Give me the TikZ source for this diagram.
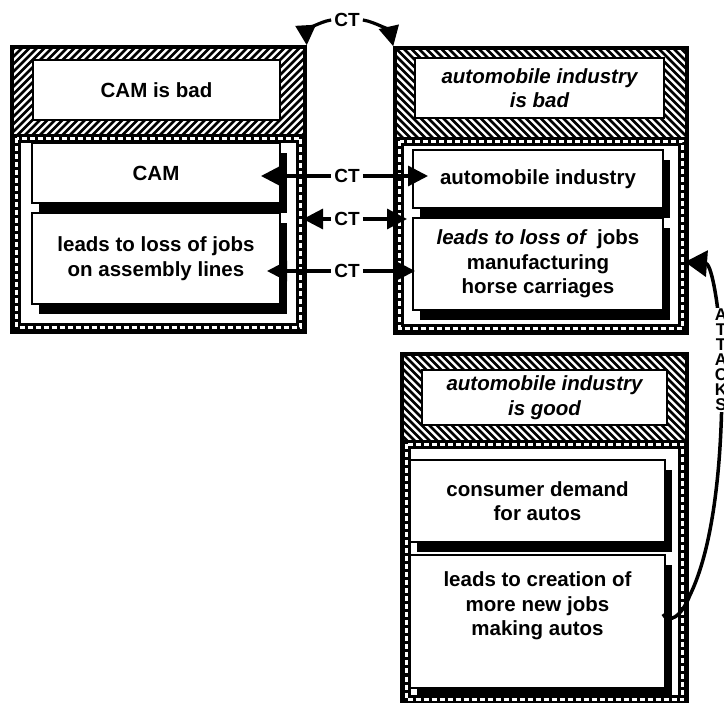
\documentclass[tikz,border=0pt]{standalone}
\usepackage{fontspec}
\setmainfont{Liberation Sans}
\usetikzlibrary{arrows.meta,shadows}

\begin{document}
\begin{tikzpicture}[x=1pt,y=-1pt,
        font=\bfseries\fontsize{20.5}{24.5}\selectfont,
        hatch/.style={line width=2.6pt},
        outer/.style={draw,line width=3.5pt},
        head/.style={draw,line width=2.5pt,fill=white,align=center,inner sep=0pt},
        band/.style={draw,line width=9pt,fill=white,
            postaction={draw=white,line width=2.5pt,dash pattern=on 5pt off 3pt}},
        card/.style={draw,line width=2.5pt,fill=white,align=center,inner sep=0pt,
            drop shadow={shadow xshift=7pt,shadow yshift=-10pt,fill=black,opacity=1}},
        ct/.style={line width=3.2pt,-{Triangle[length=20pt,width=20pt]}}]
            \useasboundingbox (0,0) rectangle (724,703);

            % hatched tops of the three frames
            \begin{scope}
                \clip (12,47) rectangle (305,140);
                \foreach \k in {0,7.5,...,420}
                    \draw[hatch] (\k,40) -- ++(-110,110);
            \end{scope}
            \begin{scope}
                \clip (395,48) rectangle (687,142);
                \foreach \k in {290,297.5,...,700}
                    \draw[hatch] (\k,40) -- ++(110,110);
            \end{scope}
            \begin{scope}
                \clip (402,354) rectangle (687,446);
                \foreach \k in {290,297.5,...,700}
                    \draw[hatch] (\k,346) -- ++(110,110);
            \end{scope}

            % CAM frame
            \node[outer,minimum width=293pt,minimum height=285pt] (L) at (158.5,189.5) {};
            \node[head,minimum width=247pt,minimum height=60pt] (Ltop) at (156.5,90) {CAM is bad};
            \draw[band] (16.5,138.5) rectangle (300.5,327.5);
            \node[card,minimum width=248pt,minimum height=60pt] (cam) at (156,173) {CAM};
            \node[card,minimum width=248pt,minimum height=91pt] (lossL) at (156,258.5)
                {leads to loss of jobs\\on assembly lines};

            % automobile industry is bad
            \node[outer,minimum width=292pt,minimum height=285pt] (R) at (541,190.5) {};
            \node[head,minimum width=249pt,minimum height=60pt] (Rtop) at (539.5,88)
                {\itshape automobile industry\\\itshape is bad};
            \draw[band] (399.5,141.5) rectangle (682.5,328.5);
            \node[card,minimum width=250pt,minimum height=58pt] (auto) at (538,179) {automobile industry};
            \node[card,minimum width=250pt,minimum height=92pt] (lossR) at (538,264)
                {\itshape leads to loss of\upshape\ \ jobs\\manufacturing\\horse carriages};

            % automobile industry is good
            \node[outer,minimum width=285pt,minimum height=350pt] (B) at (544.5,529) {};
            \node[head,minimum width=245pt,minimum height=55pt] (Btop) at (544.5,397.5)
                {\itshape automobile industry\\\itshape is good};
            \draw[band] (406.5,444.5) rectangle (682.5,699.5);
            \node[card,minimum width=255pt,minimum height=82pt] (demand) at (537.5,501)
                {consumer demand\\for autos};
            \node[card,minimum width=255pt,minimum height=133pt] (create) at (537.5,621.5) {};
            \node[align=center] (create-t) at (537.5,606)
                {leads to creation of\\more new jobs\\making autos};

            \begin{scope}[every node/.style={font=\bfseries\fontsize{19}{19}\selectfont,inner sep=3pt}]
                \node (ct0) at (347,20) {CT};
                \node (ct1) at (347,176) {CT};
                \node (ct2) at (347,219) {CT};
                \node (ct3) at (347,271) {CT};
            \end{scope}

            \coordinate (c1l) at (261,176);
            \coordinate (c1r) at (428,176);
            \coordinate (c2l) at (303,219);
            \coordinate (c2r) at (407,219);
            \coordinate (c3l) at (267,271);
            \coordinate (c3r) at (415,271);
            \coordinate (hook) at (663,614);
            \coordinate (hit) at (685,262);

            \draw[ct] (ct0.west) .. controls (318,22) and (306,32) .. (L.north east);
            \draw[ct] (ct0.east) .. controls (376,22) and (390,32) .. (R.north west);
            \path
                (ct1) edge[ct] (c1l)
                (ct1) edge[ct] (c1r)
                (ct2) edge[ct] (c2l)
                (ct2) edge[ct] (c2r)
                (ct3) edge[ct] (c3l)
                (ct3) edge[ct] (c3r);

            \draw[line width=3.5pt,-{Triangle[length=22pt,width=26pt]}]
                (hook) .. controls (668,624) and (681,618) .. (690,595)
                .. controls (712,550) and (722,470) .. (722,380)
                .. controls (722,318) and (712,264) .. (hit);
            \node[fill=white,inner sep=1pt,align=center,
                font=\bfseries\fontsize{17}{15}\selectfont] (attacks) at (721,360)
                {A\\T\\T\\A\\C\\K\\S};
        \end{tikzpicture}
\end{document}
